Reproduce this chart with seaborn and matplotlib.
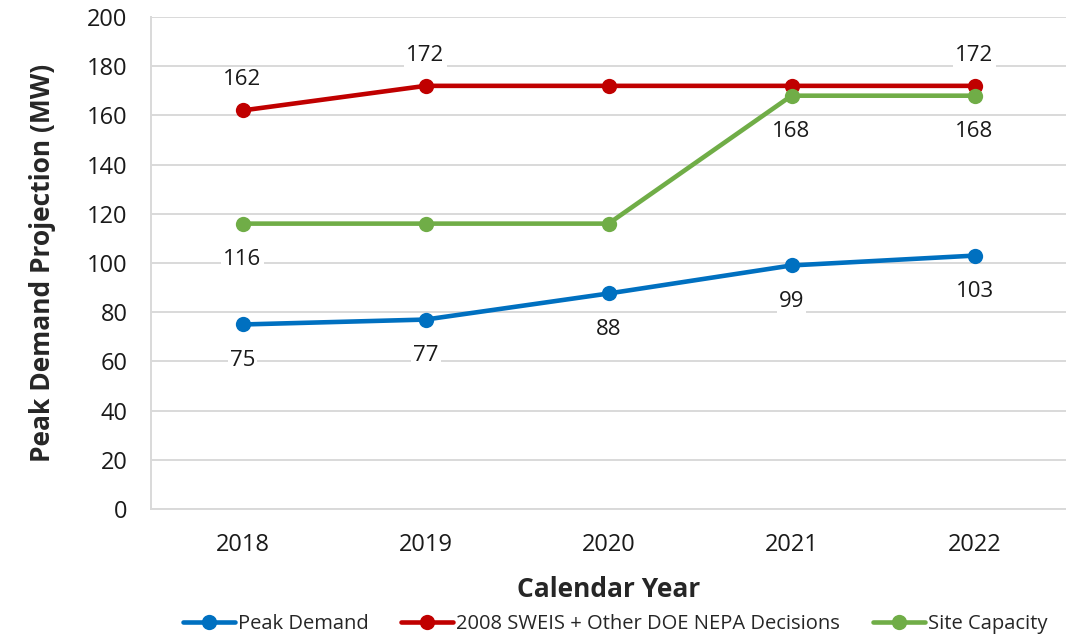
import pandas as pd
import matplotlib.pyplot as plt
import seaborn as sns

years = ['2018', '2019', '2020', '2021', '2022']
peak_demand = [75, 77, 87.6, 99, 103]
sweis = [162, 172, 172, 172, 172]
site_capacity = [116, 116, 116, 168, 168]

series_names = ['Peak Demand', '2008 SWEIS + Other DOE NEPA Decisions', 'Site Capacity']
series_values = [peak_demand, sweis, site_capacity]
colors = {'Peak Demand': '#0070C0',
          '2008 SWEIS + Other DOE NEPA Decisions': '#C00000',
          'Site Capacity': '#70AD47'}

# which points get a label, and whether it sits above (+) or below (-)
label_rules = {
    'Peak Demand': ([0, 1, 2, 3, 4], -1),
    '2008 SWEIS + Other DOE NEPA Decisions': ([0, 1, 4], 1),
    'Site Capacity': ([0, 3, 4], -1),
}

rows = []
for name, vals in zip(series_names, series_values):
    for y, v in zip(years, vals):
        rows.append({'Year': y, 'MW': v, 'Series': name})
df = pd.DataFrame(rows)

sns.set_theme(style="white")
plt.rcParams['font.family'] = ['Open Sans', 'DejaVu Sans']

fig = plt.figure(figsize=(10.66, 6.38), dpi=100)
ax = fig.add_axes([0.1417, 0.2022, 0.8583, 0.7712])

sns.lineplot(data=df, x='Year', y='MW', hue='Series', hue_order=series_names,
             palette=colors, marker='o', markersize=11, markeredgewidth=0,
             linewidth=3.3, ax=ax, legend=False, zorder=3)

for name, vals in zip(series_names, series_values):
    idxs, direction = label_rules[name]
    offset = 22 if direction > 0 else 26
    for i in idxs:
        ax.annotate(f'{vals[i]:.0f}', xy=(i, vals[i]), xytext=(0, offset * direction),
                    textcoords='offset points', ha='center', va='center',
                    fontsize=16, color='#1a1a1a', zorder=4,
                    bbox=dict(boxstyle='square,pad=0.1', fc='white', ec='none'))

ax.set_ylim(0, 200)
ax.set_xlim(-0.5, 4.5)
ax.set_yticks(range(0, 201, 20))
ax.yaxis.grid(True, color='#d9d9d9', linewidth=1.4)
ax.set_axisbelow(True)
for side in ['top', 'right']:
    ax.spines[side].set_visible(False)
for side in ['left', 'bottom']:
    ax.spines[side].set_color('#d9d9d9')
    ax.spines[side].set_linewidth(1.4)
ax.tick_params(axis='both', length=0, labelsize=17, colors='#1a1a1a')
ax.tick_params(axis='y', pad=17)
ax.tick_params(axis='x', pad=17)

ax.set_xlabel('Calendar Year', fontsize=19, fontweight='bold', labelpad=14)
ax.set_ylabel('Peak Demand Projection (MW)', fontsize=19, fontweight='bold', labelpad=22)

handles = [plt.Line2D([], [], color=colors[n], marker='o', markersize=11,
                      linewidth=3.3, markeredgewidth=0) for n in series_names]
fig.legend(handles, series_names, loc='lower center', bbox_to_anchor=(0.577, -0.022),
           ncol=3, frameon=False, fontsize=14.5, handlelength=2.6, handletextpad=0.15,
           columnspacing=1.6)

fig.savefig('out.png', dpi=100)
